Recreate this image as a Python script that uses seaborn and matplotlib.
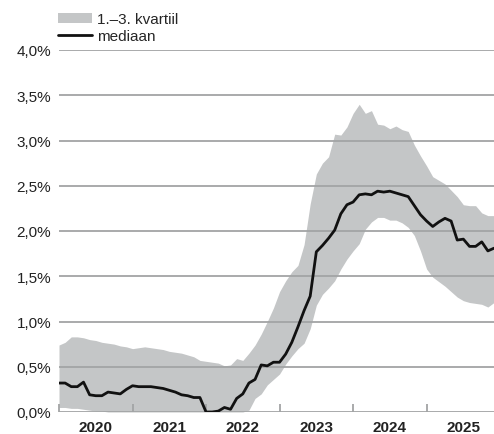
import matplotlib
matplotlib.use("Agg")
import matplotlib.pyplot as plt
import numpy as np
import pandas as pd
import seaborn as sns
from matplotlib.patches import Patch
from matplotlib.lines import Line2D

# monthly values, Jan 2020 .. Dec 2025 (in %)
median = [0.32, 0.32, 0.28, 0.28, 0.33, 0.19, 0.18, 0.18, 0.22, 0.21, 0.20, 0.25,
          0.29, 0.28, 0.28, 0.28, 0.27, 0.26, 0.24, 0.22, 0.19, 0.18, 0.16, 0.16,
          0.00, 0.00, 0.01, 0.05, 0.03, 0.15, 0.20, 0.32, 0.36, 0.52, 0.51, 0.55,
          0.55, 0.64, 0.77, 0.94, 1.12, 1.28, 1.77, 1.84, 1.92, 2.01, 2.19, 2.29,
          2.32, 2.40, 2.41, 2.40, 2.44, 2.43, 2.44, 2.42, 2.40, 2.38, 2.28, 2.18,
          2.11, 2.05, 2.10, 2.14, 2.11, 1.90, 1.91, 1.83, 1.83, 1.88, 1.78, 1.81]
q3 = [0.74, 0.77, 0.83, 0.83, 0.82, 0.80, 0.79, 0.77, 0.76, 0.75, 0.73, 0.72,
      0.70, 0.71, 0.72, 0.71, 0.70, 0.69, 0.67, 0.66, 0.65, 0.63, 0.61, 0.57,
      0.56, 0.55, 0.54, 0.51, 0.52, 0.59, 0.57, 0.65, 0.74, 0.86, 1.00, 1.15,
      1.33, 1.45, 1.55, 1.62, 1.85, 2.30, 2.63, 2.75, 2.82, 3.07, 3.06, 3.15,
      3.30, 3.40, 3.30, 3.33, 3.18, 3.17, 3.13, 3.16, 3.12, 3.10, 2.95, 2.83,
      2.72, 2.60, 2.56, 2.52, 2.45, 2.38, 2.29, 2.28, 2.28, 2.20, 2.17, 2.17]
q1 = [0.05, 0.05, 0.04, 0.04, 0.03, 0.02, 0.01, 0.01, 0.00, 0.00, 0.00, 0.00,
      0.00, 0.00, 0.00, 0.00, 0.00, 0.00, 0.00, 0.00, 0.00, 0.00, 0.00, 0.00,
      0.00, 0.00, 0.00, 0.00, 0.00, 0.00, 0.00, 0.02, 0.15, 0.20, 0.30, 0.36,
      0.42, 0.53, 0.62, 0.70, 0.76, 0.92, 1.18, 1.30, 1.37, 1.45, 1.58, 1.69,
      1.78, 1.86, 2.02, 2.10, 2.15, 2.15, 2.12, 2.12, 2.09, 2.04, 1.95, 1.78,
      1.58, 1.49, 1.44, 1.39, 1.33, 1.27, 1.23, 1.21, 1.20, 1.19, 1.16, 1.21]
years = ["2020", "2021", "2022", "2023", "2024", "2025"]
yticks = [0, 0.5, 1.0, 1.5, 2.0, 2.5, 3.0, 3.5, 4.0]

df = pd.DataFrame({"m": np.arange(len(median)), "median": median, "q1": q1, "q3": q3})

sns.set_style("white")
plt.rcParams["font.family"] = ["Liberation Sans", "DejaVu Sans"]

fig = plt.figure(figsize=(4.94, 4.35), dpi=100)
ax = fig.add_axes([59 / 494, 1 - 413 / 435, 1 - 59 / 494, (413 - 51) / 435])

band_col = "#c4c6c7"
grid_col = "#a2a4a5"
txt_col = "#222222"
ax.fill_between(df["m"], df["q1"], df["q3"], color=band_col, lw=0, zorder=1)
sns.lineplot(data=df, x="m", y="median", color="#111111", lw=2.0, ax=ax, zorder=3)

ax.set_xlim(0, len(median) - 1)
ax.set_ylim(0, 4)
ax.set_axisbelow(False)
ax.set_yticks(yticks)
ax.set_yticklabels([f"{v:.1f}%".replace(".", ",") for v in yticks], fontsize=11, color=txt_col)
ax.yaxis.grid(True, color=grid_col, lw=1.3, zorder=2)
ax.xaxis.grid(False)

ax.set_xticks(np.arange(0, 72, 12))
ax.set_xticklabels([])
ax.set_xticks(np.arange(6, 72, 12), minor=True)
ax.set_xticklabels(years, minor=True, fontsize=11, fontweight="bold", color=txt_col)
ax.tick_params(axis="x", which="major", direction="in", length=6, width=1.3,
               color=grid_col, bottom=True)
ax.tick_params(axis="x", which="minor", length=0, pad=6)
ax.tick_params(axis="y", length=0, pad=5.5)
for s in ax.spines.values():
    s.set_visible(False)
ax.set_xlabel("")
ax.set_ylabel("")

handles = [Patch(facecolor=band_col, edgecolor="none"),
           Line2D([0], [0], color="#111111", lw=2.0)]
fig.legend(handles, ["1.\u20133. kvartiil", "mediaan"], loc="upper left",
           bbox_to_anchor=(58 / 494, 1 - 13 / 435), frameon=False, fontsize=11,
           handlelength=2.2, handleheight=0.65, handletextpad=0.35,
           labelspacing=0.2, borderpad=0, borderaxespad=0)

fig.savefig("out.png", dpi=100)
